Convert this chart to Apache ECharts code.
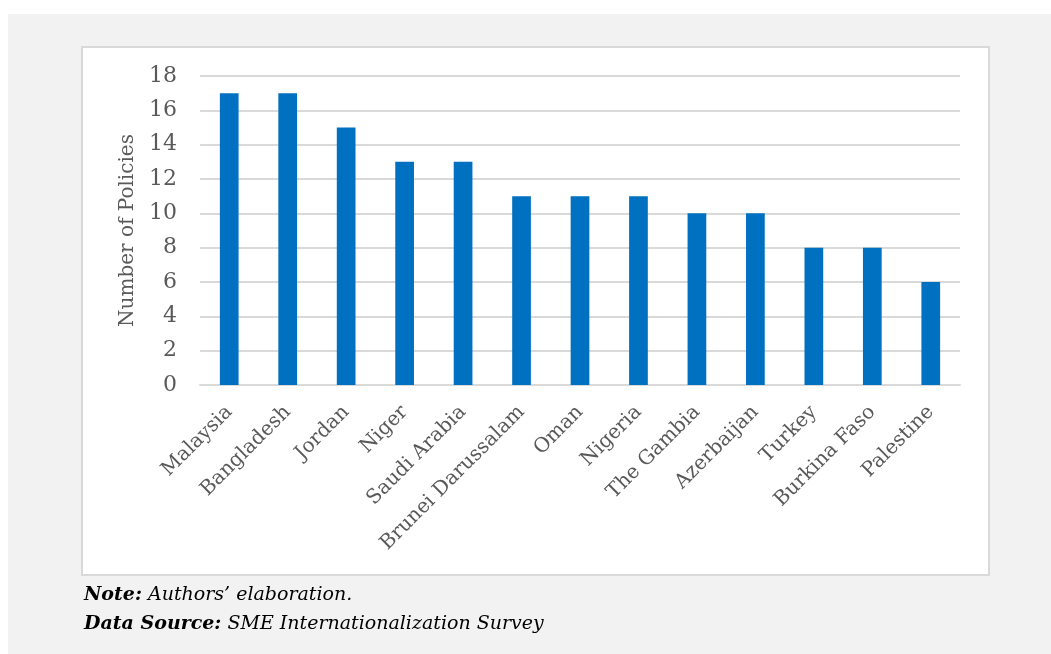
<!DOCTYPE html>
<html>
<head>
<meta charset="utf-8">
<script src="https://cdn.jsdelivr.net/npm/echarts@6/dist/echarts.min.js"></script>
<style>
  html, body { margin: 0; padding: 0; background: #ffffff; }
  #chart { width: 1051px; height: 654px; }
</style>
</head>
<body>
<div id="chart"></div>
<script>
// Countries ranked by number of policies
const countries = ['Malaysia', 'Bangladesh', 'Jordan', 'Niger', 'Saudi Arabia', 'Brunei Darussalam',
  'Oman', 'Nigeria', 'The Gambia', 'Azerbaijan', 'Turkey', 'Burkina Faso', 'Palestine'];
const policies = [17, 17, 15, 13, 13, 11, 11, 11, 10, 10, 8, 8, 6];
const yTicks = { min: 0, max: 18, step: 2 };
const axisTitle = 'Number of Policies';
const noteLines = [
  ['Note:', ' Authors\u2019 elaboration.'],
  ['Data Source:', ' SME Internationalization Survey']
];

const serif = '"DejaVu Serif", "Liberation Serif", serif';
const textGray = '#595959';

const chart = echarts.init(document.getElementById('chart'), null, { renderer: 'canvas' });

chart.setOption({
  backgroundColor: '#ffffff',
  animation: false,
  graphic: [
    { type: 'rect', z: -10, silent: true,
      shape: { x: 8, y: 14, width: 1043, height: 640 },
      style: { fill: '#f2f2f2' } },
    { type: 'rect', z: -9, silent: true,
      shape: { x: 82, y: 47, width: 907, height: 528 },
      style: { fill: '#ffffff', stroke: '#d9d9d9', lineWidth: 2 } }
  ],
  title: {
    left: 79,
    top: 576,
    text: noteLines.map(l => '{b|' + l[0] + '}{i|' + l[1] + '}').join('\n'),
    textStyle: {
      rich: {
        b: { fontFamily: serif, fontStyle: 'italic', fontWeight: 'bold', fontSize: 19, color: '#000000', lineHeight: 29 },
        i: { fontFamily: serif, fontStyle: 'italic', fontWeight: 'normal', fontSize: 19, color: '#000000', lineHeight: 29 }
      }
    }
  },
  grid: { left: 200, right: 91, top: 76, bottom: 269, containLabel: false },
  xAxis: {
    type: 'category',
    data: countries,
    axisLine: { show: true, lineStyle: { color: '#d9d9d9', width: 2 } },
    axisTick: { show: false },
    axisLabel: {
      rotate: 45,
      margin: 24,
      interval: 0,
      color: textGray,
      fontFamily: serif,
      fontSize: 20
    }
  },
  yAxis: {
    type: 'value',
    min: yTicks.min,
    max: yTicks.max,
    interval: yTicks.step,
    name: axisTitle,
    nameLocation: 'middle',
    nameGap: 60,
    nameRotate: 90,
    nameTextStyle: { color: textGray, fontFamily: serif, fontSize: 20 },
    axisLine: { show: false },
    axisTick: { show: false },
    axisLabel: { color: textGray, fontFamily: serif, fontSize: 22, margin: 23 },
    splitLine: { lineStyle: { color: '#d9d9d9', width: 2 } }
  },
  series: [{
    type: 'bar',
    data: policies,
    barWidth: '32%',
    itemStyle: { color: '#0070c0' }
  }]
});
</script>
</body>
</html>
